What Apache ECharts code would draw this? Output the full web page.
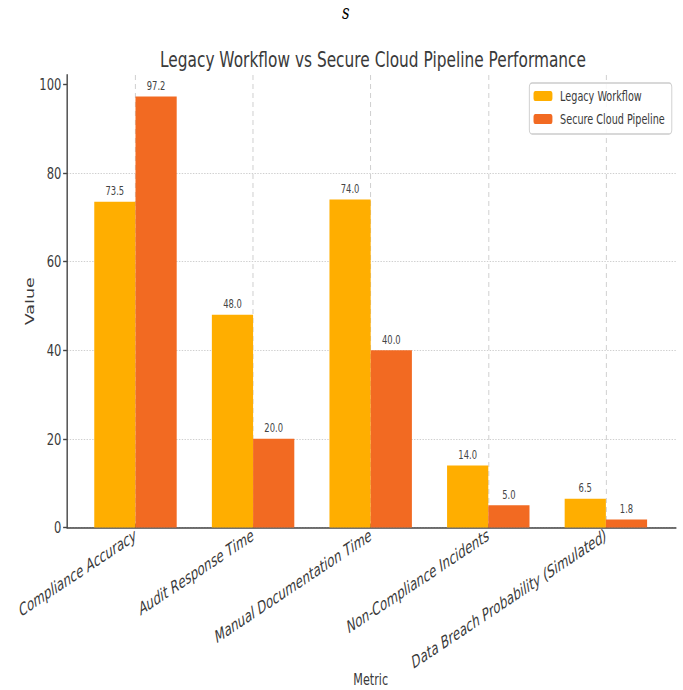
<!DOCTYPE html>
<html><head><meta charset="utf-8">
<script src="https://cdn.jsdelivr.net/npm/echarts@6/dist/echarts.min.js"></script>
<style>
html,body{margin:0;padding:0;background:#fff;overflow:hidden}
#wrap{width:683px;height:690px;overflow:hidden}
#c{width:976px;height:690px;transform:scaleX(0.69980);transform-origin:0 0}
</style>
</head><body><div id="wrap"><div id="c"></div></div>
<script>
const categories = ["Compliance Accuracy","Audit Response Time","Manual Documentation Time","Non-Compliance Incidents","Data Breach Probability (Simulated)"];
const legacyValues = [73.5, 48.0, 74.0, 14.0, 6.5];
const cloudValues = [97.2, 20.0, 40.0, 5.0, 1.8];
const seriesNames = ["Legacy Workflow", "Secure Cloud Pipeline"];
const yTicks = [0, 20, 40, 60, 80, 100];

const FONT = '"DejaVu Sans",sans-serif';
const TXT = '#3a3a3a';
const chart = echarts.init(document.getElementById('c'), null, {renderer:'svg', width:976, height:690});
const lbl = {show:true, position:'top', distance:5, fontFamily:FONT, fontSize:12, color:'#444', formatter: p => p.value.toFixed(1)};
chart.setOption({
  animation:false,
  backgroundColor:'#fff',
  title:[
    {text:'s', left:489, top:-4, textAlign:'center', textStyle:{fontFamily:'"DejaVu Serif",serif', fontStyle:'italic', fontWeight:'normal', fontSize:21, color:'#000'}},
    {text:'Legacy Workflow vs Secure Cloud Pipeline Performance', left:528, top:43, textAlign:'center', textStyle:{fontFamily:FONT, fontWeight:'normal', fontSize:22, color:TXT}}
  ],
  legend:{
    data:seriesNames, orient:'vertical', right:16, top:83,
    itemWidth:27, itemHeight:10, itemGap:9, padding:[6,10,8,6],
    borderColor:'#ccc', borderWidth:1.3, borderRadius:4, backgroundColor:'rgba(255,255,255,0.85)',
    textStyle:{fontFamily:FONT, fontSize:13.8, color:TXT, padding:[0,0,0,6]}
  },
  grid:[
    {left:95.7, right:10, top:75, bottom:162.5, containLabel:false, outerBoundsMode:'none'},
    {left:193.6, right:110.2, top:75, bottom:162.5, containLabel:false, outerBoundsMode:'none'}
  ],
  xAxis:[
    {gridIndex:0, type:'category', data:categories, axisLine:{show:true, lineStyle:{color:'#444', width:1.6}}, axisTick:{show:false}, axisLabel:{show:false}, splitLine:{show:false}},
    {gridIndex:1, type:'category', data:categories, boundaryGap:false,
     axisLine:{show:false}, axisTick:{show:true, inside:true, length:4, lineStyle:{color:'#444', width:1.4}},
     axisLabel:{rotate:25, margin:6, fontFamily:FONT, fontStyle:'italic', fontSize:17, color:TXT, interval:0},
     splitLine:{show:true, lineStyle:{color:'#c8c8c8', type:[5,4], width:1}},
     name:'Metric', nameLocation:'middle', nameGap:144, nameMoveOverlap:false, nameTextStyle:{fontFamily:FONT, fontSize:16, color:TXT}}
  ],
  yAxis:[
    {gridIndex:0, type:'value', min:0, max:102.06, interval:20,
     axisLine:{show:true, lineStyle:{color:'#444', width:2}}, axisTick:{show:true, length:5.5, customValues:yTicks, lineStyle:{color:'#444', width:1.4}},
     axisLabel:{fontFamily:FONT, fontSize:16.5, color:TXT, margin:8, customValues:yTicks, formatter: v => yTicks.includes(v) ? String(v) : ''},
     splitLine:{show:true, showMaxLine:false, lineStyle:{color:'#c0c0c0', type:[2,2], width:0.9}},
     name:'Value', nameLocation:'middle', nameGap:44, nameMoveOverlap:false, nameTextStyle:{fontFamily:FONT, fontSize:17.5, color:TXT}},
    {gridIndex:1, type:'value', min:0, max:102.06, show:false, splitLine:{show:false}}
  ],
  series:[
    {name:seriesNames[0], type:'bar', xAxisIndex:1, yAxisIndex:1, data:legacyValues, barWidth:58.9, barGap:'0%', clip:false, itemStyle:{color:'#FFAE00'}, label:lbl},
    {name:seriesNames[1], type:'bar', xAxisIndex:1, yAxisIndex:1, data:cloudValues, barWidth:58.9, barGap:'0%', clip:false, itemStyle:{color:'#F26A22'}, label:lbl}
  ]
});
</script></body></html>
